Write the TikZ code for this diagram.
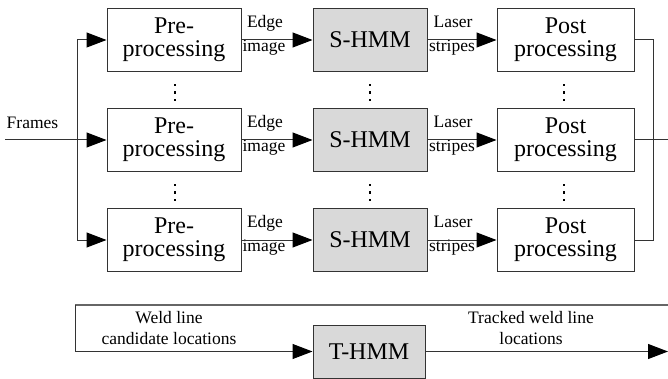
\documentclass[tikz,border=0pt]{standalone}
\usepackage{fontspec}
\setmainfont{Liberation Serif}
\usetikzlibrary{arrows.meta}

\tikzset{
  block/.style={draw=black!80, line width=1pt, minimum width=134pt, minimum height=63pt,
    inner sep=0pt, align=center, font=\fontsize{24}{23}\selectfont},
  hmmblock/.style={block, fill=black!15, minimum width=114pt},
  lbl/.style={inner sep=0pt, align=center, font=\fontsize{17.5}{21}\selectfont},
  link/.style={draw=black!80, line width=1pt},
  arr/.style={link, -{Triangle[length=20pt,width=15pt,black]}}
}

\begin{document}
\begin{tikzpicture}[x=1pt,y=-1pt]
    \useasboundingbox (0,0) rectangle (668,379);
    %% three parallel rows
    \foreach \r/\y in {1/40,2/140,3/240}{
        \node[block] (pre\r) at (174,\y) {Pre-\\processing};
        \node[hmmblock] (shmm\r) at (370,\y) {S-HMM};
        \node[block, minimum width=137pt] (post\r) at (565.5,\y) {Post\\processing};
        \node[lbl] (edge\r) at (265,\y-17) {Edge};
        \node[lbl] (image\r) at (264,\y+8) {image};
        \node[lbl] (laser\r) at (453,\y-18) {Laser};
        \node[lbl] (stripes\r) at (452,\y+8) {stripes};
        \draw[arr] (pre\r) -- (shmm\r);
        \draw[arr] (shmm\r) -- (post\r);
    }
    %% dots between rows
    \foreach \x in {175,370,564}
        \foreach \y in {85,92.5,100,185,192.5,200}
            \fill (\x-1.4,\y-1.4) rectangle ++(2.8,2.8);
    %% frames in
    \coordinate (in) at (5,140);
    \coordinate (fork) at (77,140);
    \node[lbl] (frames) at (32.5,123) {Frames};
    \draw[arr] (in) -- (pre2);
    \draw[arr] (fork) |- (pre1);
    \draw[arr] (fork) |- (pre3);
    %% results out
    \coordinate (join) at (653,140);
    \coordinate (out) at (668,140);
    \draw[link] (post1) -| (join);
    \draw[link] (post3) -| (join);
    \draw[link] (post2) -- (out);
    %% tracking
    \coordinate (loopR) at (668,305);
    \coordinate (loopL) at (75,305);
    \coordinate (track) at (668,351.5);
    \node[hmmblock, minimum width=112pt, minimum height=53pt] (thmm) at (369,351.5) {T-HMM};
    \draw[draw=black!60, line width=1.3pt] (loopR) -- (loopL);
    \draw[arr] (loopL) |- (thmm);
    \draw[arr] (thmm) -- (track);
    \node[lbl] (cand) at (169,328) {Weld line\\candidate locations};
    \node[lbl] (tracked) at (531,328) {Tracked weld line\\locations};
\end{tikzpicture}
\end{document}
